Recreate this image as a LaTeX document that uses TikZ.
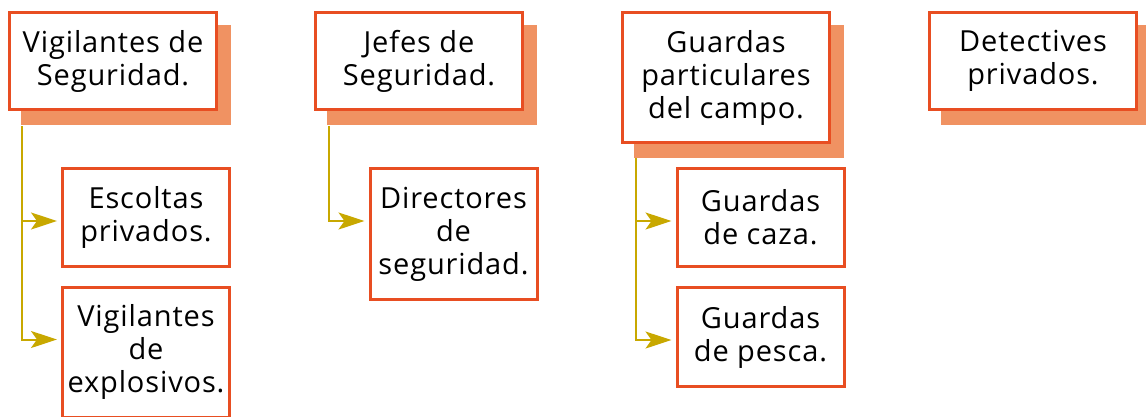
\documentclass[tikz,border=0pt]{standalone}
\usepackage{fontspec}
\setmainfont{Open Sans}[LetterSpace=3]
\usetikzlibrary{arrows.meta, shadows}
\definecolor{boxred}{RGB}{232,78,34}
\definecolor{boxshade}{RGB}{240,146,98}
\definecolor{linkgold}{RGB}{200,168,0}
\tikzset{
 job/.style={draw=boxred, line width=3pt, fill=white, align=center, inner sep=0pt,
  font=\fontsize{29}{33}\selectfont},
 headjob/.style={job, minimum width=207pt, general shadow={fill=boxshade, draw=boxshade, line width=3pt, shadow xshift=13pt, shadow yshift=-14pt}},
 subjob/.style={job, minimum width=167pt},
 link/.style={draw=linkgold, line width=2pt, shorten >=4pt, -{Stealth[length=26pt, width=17pt, inset=6pt]}}
}
\begin{document}
\begin{tikzpicture}[x=1pt, y=-1pt]
 \useasboundingbox (0,0) rectangle (1146,416);
 % first row
 \node[headjob, minimum height=97pt] (vig) at (113,61) {Vigilantes de\\Seguridad.};
 \node[headjob, minimum height=97pt] (jef) at (419,61) {Jefes de\\Seguridad.};
 \node[headjob, minimum height=130pt] (gua) at (726,77.5) {Guardas\\particulares\\del campo.};
 \node[headjob, minimum height=97pt] (det) at (1033,61) {Detectives\\privados.};
 % second row
 \node[subjob, minimum height=98pt] (esc) at (146,217.5) {Escoltas\\privados.};
 \node[subjob, minimum height=130pt] (exp) at (146,352) {Vigilantes\\de\\explosivos.};
 \node[subjob, minimum height=131pt] (dir) at (453.5,234) {Directores\\de\\seguridad.};
 \node[subjob, minimum height=98pt] (caz) at (760.5,217.5) {Guardas\\de caza.};
 \node[subjob, minimum height=99pt] (pes) at (760.5,337) {Guardas\\de pesca.};
 % links
 \draw[link] ([xshift=14pt, yshift=-15pt]vig.south west) |- ([yshift=-54pt]esc.north west);
 \draw[link] ([xshift=14pt, yshift=-15pt]vig.south west) |- ([yshift=-54pt]exp.north west);
 \draw[link] ([xshift=15pt, yshift=-15pt]jef.south west) |- ([yshift=-54pt]dir.north west);
 \draw[link] ([xshift=15pt, yshift=-14pt]gua.south west) |- ([yshift=-54pt]caz.north west);
 \draw[link] ([xshift=15pt, yshift=-14pt]gua.south west) |- ([yshift=-54pt]pes.north west);
\end{tikzpicture}
\end{document}
